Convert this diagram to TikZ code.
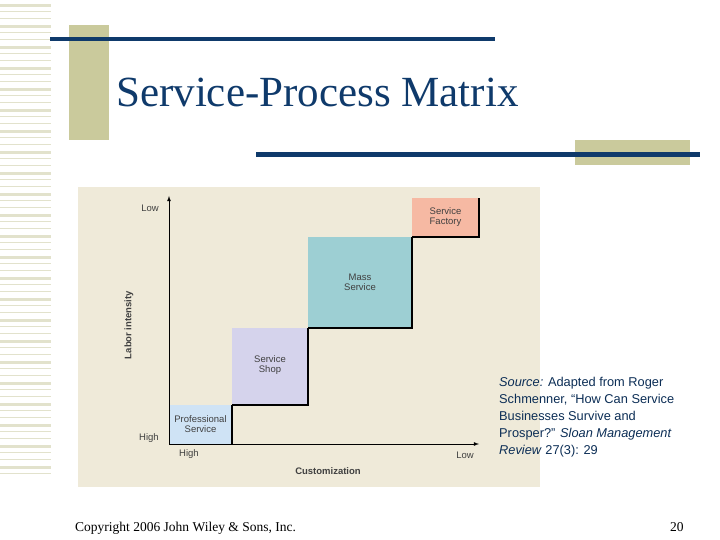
\documentclass[tikz,border=0pt]{standalone}
\usepackage{fontspec}
\setmainfont{Liberation Serif}
\newfontfamily\sans{Liberation Sans}
\definecolor{navyc}{HTML}{0F3A6B}
\definecolor{tanc}{HTML}{CACA9C}
\definecolor{stripe}{HTML}{E2E2CC}
\definecolor{bgc}{HTML}{EFEAD9}
\definecolor{profc}{HTML}{CFE3F5}
\definecolor{shopc}{HTML}{D5D3EC}
\definecolor{massc}{HTML}{9DCFD3}
\definecolor{factc}{HTML}{F6B9A3}
\begin{document}
\begin{tikzpicture}[x=1pt,y=-1pt,
 edge/.style={line width=1.5pt,black},
 lab/.style={font=\sans\fontsize{9.5}{10}\selectfont,text=black!75,align=center,inner sep=0pt}]
\useasboundingbox (0,0) rectangle (720,540);
\fill[white] (0,0) rectangle (720,540);
\foreach \i in {0,...,67}{\fill[stripe] (0,{4+\i*7}) rectangle (51,{5.3+\i*7});}
\foreach \i in {0,...,22}{\fill[stripe] (0,{4+\i*21}) rectangle (51,{7+\i*21});}
\fill[tanc] (69,25) rectangle (109,140);
\fill[navyc] (50,37) rectangle (495,41.5);
\node[anchor=base west,inner sep=0pt,text=navyc,font=\fontsize{43}{45}\selectfont] (title) at (116,107) {Service-Process Matrix};
\fill[tanc] (575,140) rectangle (690,165);
\fill[navyc] (256,152.5) rectangle (700,157);
\fill[bgc] (78,187) rectangle (540,487);
\fill[profc] (169,405) rectangle (232,444);
\fill[shopc] (232,328) rectangle (308,405);
\fill[massc] (308,237) rectangle (412,328);
\fill[factc] (412,198) rectangle (479,237);
\draw[edge] (232,405) -- (232,444);
\draw[edge] (232,405) -- (308,405) -- (308,328);
\draw[edge] (308,328) -- (412,328) -- (412,237);
\draw[edge] (412,237) -- (479,237) -- (479,198);
\node[lab] (ps) at (200.5,424) {Professional\\Service};
\node[lab] (ss) at (270,365) {Service\\Shop};
\node[lab] (ms) at (360,282) {Mass\\Service};
\node[lab] (sf) at (445.5,217) {Service\\Factory};
\coordinate (o) at (169,444);
\coordinate (yt) at (169,196);
\coordinate (xr) at (479,444);
\draw[line width=0.8pt,-latex] (o) -- (yt);
\draw[line width=0.8pt,-latex] (o) -- (xr);
\node[lab] (lowy) at (150,208) {Low};
\node[lab] (highy) at (149,438) {High};
\node[lab] (highx) at (189,454) {High};
\node[lab] (lowx) at (465,455) {Low};
\node[lab,font=\sans\bfseries\fontsize{9.5}{10}\selectfont] (cust) at (328,471) {Customization};
\node[lab,font=\sans\bfseries\fontsize{9.5}{10}\selectfont,rotate=90] (labor) at (129,325) {Labor intensity};
\node[anchor=north west,inner sep=0pt,align=left,text=navyc!80!black,font=\sans\fontsize{12.8}{17}\selectfont] (src) at (499,377)
{\textit{Source:} Adapted from Roger\\Schmenner, “How Can Service\\Businesses Survive and\\Prosper?” \textit{Sloan Management}\\\textit{Review} 27(3): 29};
\node[anchor=base west,inner sep=0pt,font=\fontsize{13.5}{15}\selectfont] (copy) at (75,531) {Copyright 2006 John Wiley \& Sons, Inc.};
\node[anchor=base west,inner sep=0pt,font=\fontsize{13.5}{15}\selectfont] (pg) at (670,531) {20};
\end{tikzpicture}
\end{document}
